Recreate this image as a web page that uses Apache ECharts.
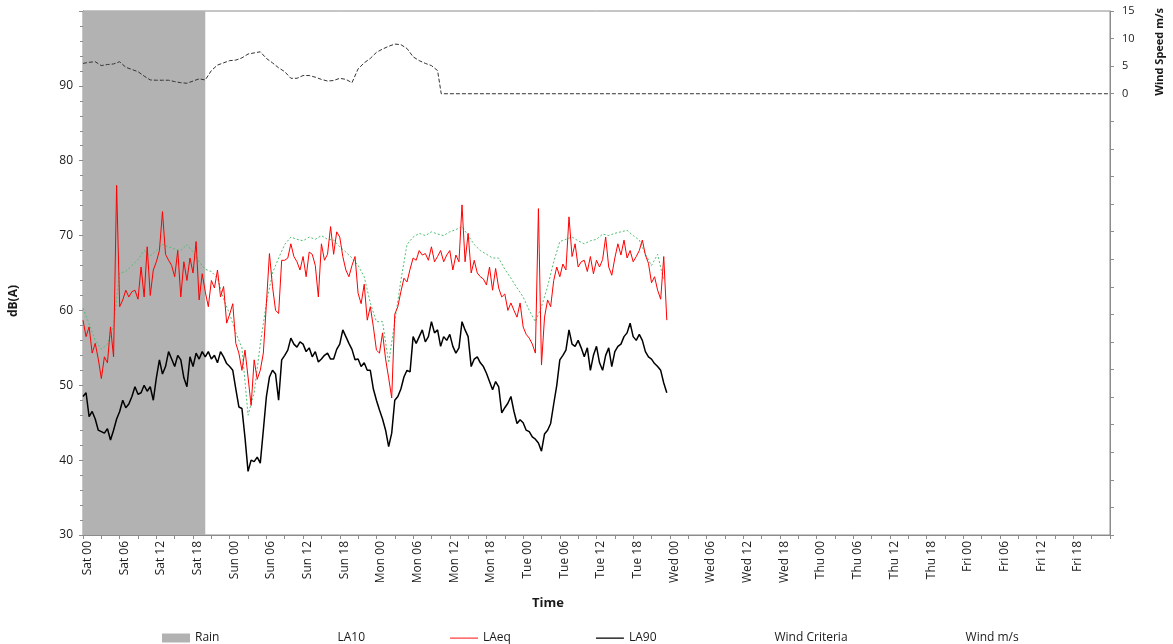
<!DOCTYPE html>
<html>
<head>
<meta charset="utf-8">
<script src="https://cdn.jsdelivr.net/npm/echarts@6/dist/echarts.min.js"></script>
<style>
html,body{margin:0;padding:0;background:#fff;}
#chart{width:1173px;height:644px;}
</style>
</head>
<body>
<div id="chart"></div>
<script>
// ---- Data (hours since Sat 00:00) ----
const dayNames = ['Sat','Sun','Mon','Tue','Wed','Thu','Fri'];
const rainStartHour = 0;
const rainEndHour = 20;

// LAeq, every 0.5 h from Sat 00:00
const laeqStep = 0.5;
const laeq = [
 58.7,56.5,57.8,54.3,55.6,53.5,50.9,53.8,53.0,57.8,
 53.8,76.7,60.5,61.4,62.7,61.8,62.5,62.7,61.5,65.8,
 61.8,68.5,62.0,65.4,66.5,68.0,73.2,67.5,66.7,66.0,
 64.5,68.0,61.8,66.5,64.0,67.0,65.0,69.2,61.4,64.9,
 62.5,60.5,64.0,63.0,65.4,61.8,63.2,58.3,59.5,60.9,
 55.6,54.3,52.0,54.7,51.1,47.3,53.4,50.8,52.0,54.3,
 60.9,67.6,63.2,60.0,59.6,66.7,66.7,67.0,68.9,67.2,
 66.5,65.4,67.2,64.5,67.8,67.5,66.0,61.8,68.9,66.7,
 67.5,71.2,67.5,70.5,69.8,67.2,65.4,64.5,66.0,67.2,
 62.3,60.9,63.5,58.7,
 60.5,57.8,54.7,54.3,57.0,53.5,51.0,48.3,59.5,60.5,
 62.5,64.3,63.8,65.5,67.0,66.7,68.0,67.4,67.6,66.7,
 68.5,66.5,67.2,68.0,66.5,67.4,68.0,65.4,67.4,66.5,
 74.1,66.5,70.3,65.0,66.7,65.0,64.5,64.2,63.4,65.8,
 62.7,65.6,63.0,61.8,62.2,60.0,61.0,60.0,59.1,61.0,
 57.8,56.8,56.3,55.5,54.3,73.6,52.7,59.1,61.4,60.5,
 64.0,65.8,64.5,66.2,65.4,72.5,67.2,68.9,65.8,66.5,
 66.7,65.2,67.2,64.9,66.7,65.8,66.8,69.8,65.8,64.7,
 67.0,68.9,67.4,69.4,67.0,68.0,66.5,67.2,68.0,69.4,
 67.4,66.3,63.7,64.5,62.7,61.5,67.2,58.7
];

// LA90, every 0.5 h from Sat 00:00
const la90Step = 0.5;
const la90 = [
 48.5,49.0,45.8,46.5,45.5,44.0,43.8,43.6,44.2,42.7,
 44.0,45.5,46.5,48.0,47.0,47.5,48.5,49.8,48.8,49.0,
 50.0,49.2,49.8,48.0,51.0,53.4,51.5,52.5,54.5,53.5,
 52.5,54.0,53.4,51.0,49.8,53.8,52.5,54.3,53.5,54.5,
 53.8,54.5,53.5,54.0,53.0,54.5,53.8,52.9,52.5,52.0,
 49.5,47.1,46.9,43.0,38.5,40.0,39.8,40.4,39.6,44.0,
 48.5,51.1,52.0,51.5,48.0,53.4,54.0,54.7,56.3,55.5,
 55.1,55.8,55.5,54.5,55.0,53.8,54.5,53.1,53.5,54.0,
 54.3,53.5,53.5,54.8,55.5,57.4,56.5,55.6,54.8,53.4,
 53.5,52.5,53.0,52.0,
 52.0,49.5,48.0,46.7,45.5,44.0,41.8,43.6,48.0,48.5,
 49.5,51.1,52.0,51.8,56.5,55.6,56.5,57.4,55.8,56.5,
 58.5,57.0,57.4,55.2,56.5,56.0,56.8,55.2,54.3,55.0,
 58.5,57.4,56.5,52.5,53.5,53.8,53.0,52.5,51.6,50.5,
 49.4,50.5,49.8,46.3,47.0,47.6,48.5,46.5,44.9,45.4,
 45.0,44.0,43.8,43.1,42.8,42.3,41.2,43.5,44.0,44.9,
 47.5,50.0,53.4,54.0,54.7,57.4,55.5,55.2,56.0,55.0,
 53.8,55.0,52.0,54.0,55.2,53.0,52.0,54.0,55.0,52.5,
 54.5,55.2,55.5,56.5,57.0,58.3,56.5,56.0,56.8,56.0,
 54.5,53.8,53.5,52.9,52.5,52.0,50.3,49.0
];

// LA10, hourly from Sat 00:00
const la10Step = 1;
const la10 = [
 60.3,58.2,56.0,54.8,55.5,58.0,65.0,65.2,66.0,66.8,
 68.0,67.3,68.0,68.8,68.5,68.2,68.0,68.8,67.8,66.5,
 65.5,65.2,64.3,61.5,59.5,57.0,55.0,46.0,49.0,55.5,
 61.0,65.0,67.0,68.8,69.8,69.5,69.3,69.8,69.5,70.0,
 69.5,69.4,68.5,67.8,67.0,66.0,64.5,61.0,58.5,58.5,
 53.0,58.5,64.0,68.8,69.8,70.3,70.0,70.5,70.2,70.0,
 70.5,70.8,71.2,70.0,68.8,68.0,67.5,67.0,67.0,65.5,
 64.3,63.0,61.8,60.0,58.5,60.5,63.2,66.5,69.2,69.5,
 69.8,69.3,68.9,69.3,69.5,70.2,70.0,70.3,70.5,70.7,
 70.0,69.4,67.5,66.0,67.5,64.0
];

// Wind speed m/s, hourly from Sat 00:00 until the sensor drops to zero
const windStep = 1;
const wind = [
 5.5,5.7,5.8,5.1,5.3,5.4,5.8,4.8,4.4,4.0,
 3.2,2.5,2.45,2.45,2.45,2.2,2.0,1.9,2.3,2.7,
 2.5,4.2,5.2,5.6,6.0,6.1,6.5,7.2,7.4,7.6,
 6.4,5.6,4.7,4.0,2.8,2.8,3.3,3.3,3.0,2.6,
 2.3,2.4,2.8,2.6,2.0,4.5,5.6,6.4,7.5,8.1,
 8.6,9.0,8.9,8.2,6.7,6.0,5.5,5.1,4.2
];
const windZeroFromHour = 58.6;
const windZeroToHour = 168;

const windCriteria = [];

// ---- Build series data ----
const toXY = (arr, step) => arr.map((v, i) => [i * step, v]);
const windData = toXY(wind, windStep).concat([[windZeroFromHour, 0], [windZeroToHour, 0]]);
const rainData = [[rainStartHour, 1], [rainEndHour, 1]];

const FONT = 'Open Sans';
const TXT = '#1a1a1a';
const AX = '#8c8c8c';
// thin line legend icon (centred, with invisible extent points to keep its height)
const LINE_ICON = 'path://M0,4 H28 V5.3 H0 Z M0,0 H0.01 V0.01 H0 Z M0,9 H0.01 V9.01 H0 Z';

const chart = echarts.init(document.getElementById('chart'), null, {renderer: 'canvas'});
chart.setOption({
  animation: false,
  backgroundColor: '#fff',
  textStyle: {fontFamily: FONT, color: TXT},
  grid: {left: 83, right: 63, top: 11, bottom: 109, show: true, borderColor: AX, borderWidth: 1, backgroundColor: 'transparent'},
  xAxis: {
    type: 'value', min: 0, max: 168, interval: 6,
    axisLine: {show: true, onZero: false, lineStyle: {color: AX}},
    axisTick: {show: true, length: 4, lineStyle: {color: AX}},
    minorTick: {show: true, splitNumber: 2, length: 4, lineStyle: {color: AX}},
    splitLine: {show: false},
    axisLabel: {
      rotate: 90, margin: 6, fontSize: 12, color: TXT, fontFamily: FONT,
      showMaxLabel: false, verticalAlign: 'top', lineHeight: 9,
      formatter: function (v) {
        const d = Math.floor(v / 24), h = v % 24;
        return dayNames[d % 7] + ' ' + (h < 10 ? '0' + h : '' + h);
      }
    }
  },
  yAxis: [
    {
      type: 'value', min: 30, max: 100, interval: 10, position: 'left',
      axisLine: {show: true, onZero: false, lineStyle: {color: AX}},
      axisTick: {show: true, length: 4, lineStyle: {color: AX}},
      minorTick: {show: true, splitNumber: 5, length: 3, lineStyle: {color: AX}},
      splitLine: {show: false},
      axisLabel: {fontSize: 12, color: TXT, margin: 10, fontFamily: FONT,
        formatter: v => (v >= 100 ? '' : v)}
    },
    {
      type: 'value', min: -80, max: 15, interval: 5, position: 'right',
      axisLine: {show: true, onZero: false, lineStyle: {color: AX}},
      axisTick: {show: true, length: 4, lineStyle: {color: AX}},
      splitLine: {show: false},
      axisLabel: {fontSize: 11, color: TXT, margin: 12, fontFamily: FONT,
        formatter: v => (v >= 0 ? v : '')}
    },
    {type: 'value', min: 0, max: 1, show: false}
  ],
  legend: {
    left: 157, top: 627, itemGap: 85, itemWidth: 28, itemHeight: 9,
    textStyle: {fontSize: 12, color: TXT, fontFamily: FONT},
    data: [
      {name: 'Rain', icon: 'rect'},
      {name: 'LA10', icon: 'none'},
      {name: 'LAeq', icon: LINE_ICON, itemStyle: {color: '#ff4040'}},
      {name: 'LA90', icon: LINE_ICON, itemStyle: {color: '#000000'}},
      {name: 'Wind Criteria', icon: 'none'},
      {name: 'Wind m/s', icon: 'none'}
    ]
  },
  graphic: [
    {type: 'text', left: 8, top: 285, rotation: Math.PI / 2,
     style: {text: 'dB(A)', font: 'bold 12px "Open Sans"', fill: TXT}},
    {type: 'text', left: 1154, top: 8, rotation: Math.PI / 2,
     style: {text: 'Wind Speed m/s', font: 'bold 11px "Open Sans"', fill: TXT}},
    {type: 'text', left: 532, top: 597,
     style: {text: 'Time', font: 'bold 13px "Open Sans"', fill: TXT}}
  ],
  series: [
    {name: 'Rain', type: 'line', yAxisIndex: 2, data: rainData, symbol: 'none',
     lineStyle: {width: 0}, itemStyle: {color: '#b2b2b2'},
     areaStyle: {color: '#b2b2b2', opacity: 1}, z: 1, silent: true},
    {name: 'LA10', type: 'line', data: toXY(la10, la10Step), symbol: 'none',
     lineStyle: {color: '#4fbf72', width: 1, type: [2, 2]}, itemStyle: {color: '#4fbf72'}, z: 3},
    {name: 'LAeq', type: 'line', data: toXY(laeq, laeqStep), symbol: 'none',
     lineStyle: {color: '#ff0000', width: 1}, itemStyle: {color: '#ff0000'}, z: 4},
    {name: 'LA90', type: 'line', data: toXY(la90, la90Step), symbol: 'none',
     lineStyle: {color: '#000000', width: 1.5}, itemStyle: {color: '#000000'}, z: 5},
    {name: 'Wind Criteria', type: 'line', data: windCriteria, symbol: 'none',
     lineStyle: {color: '#7f7f7f', width: 1}, itemStyle: {color: '#7f7f7f'}},
    {name: 'Wind m/s', type: 'line', yAxisIndex: 1, data: windData, symbol: 'none',
     lineStyle: {color: '#333', width: 1, type: [4, 2]}, itemStyle: {color: '#333'}, z: 6}
  ]
});
</script>
</body>
</html>
